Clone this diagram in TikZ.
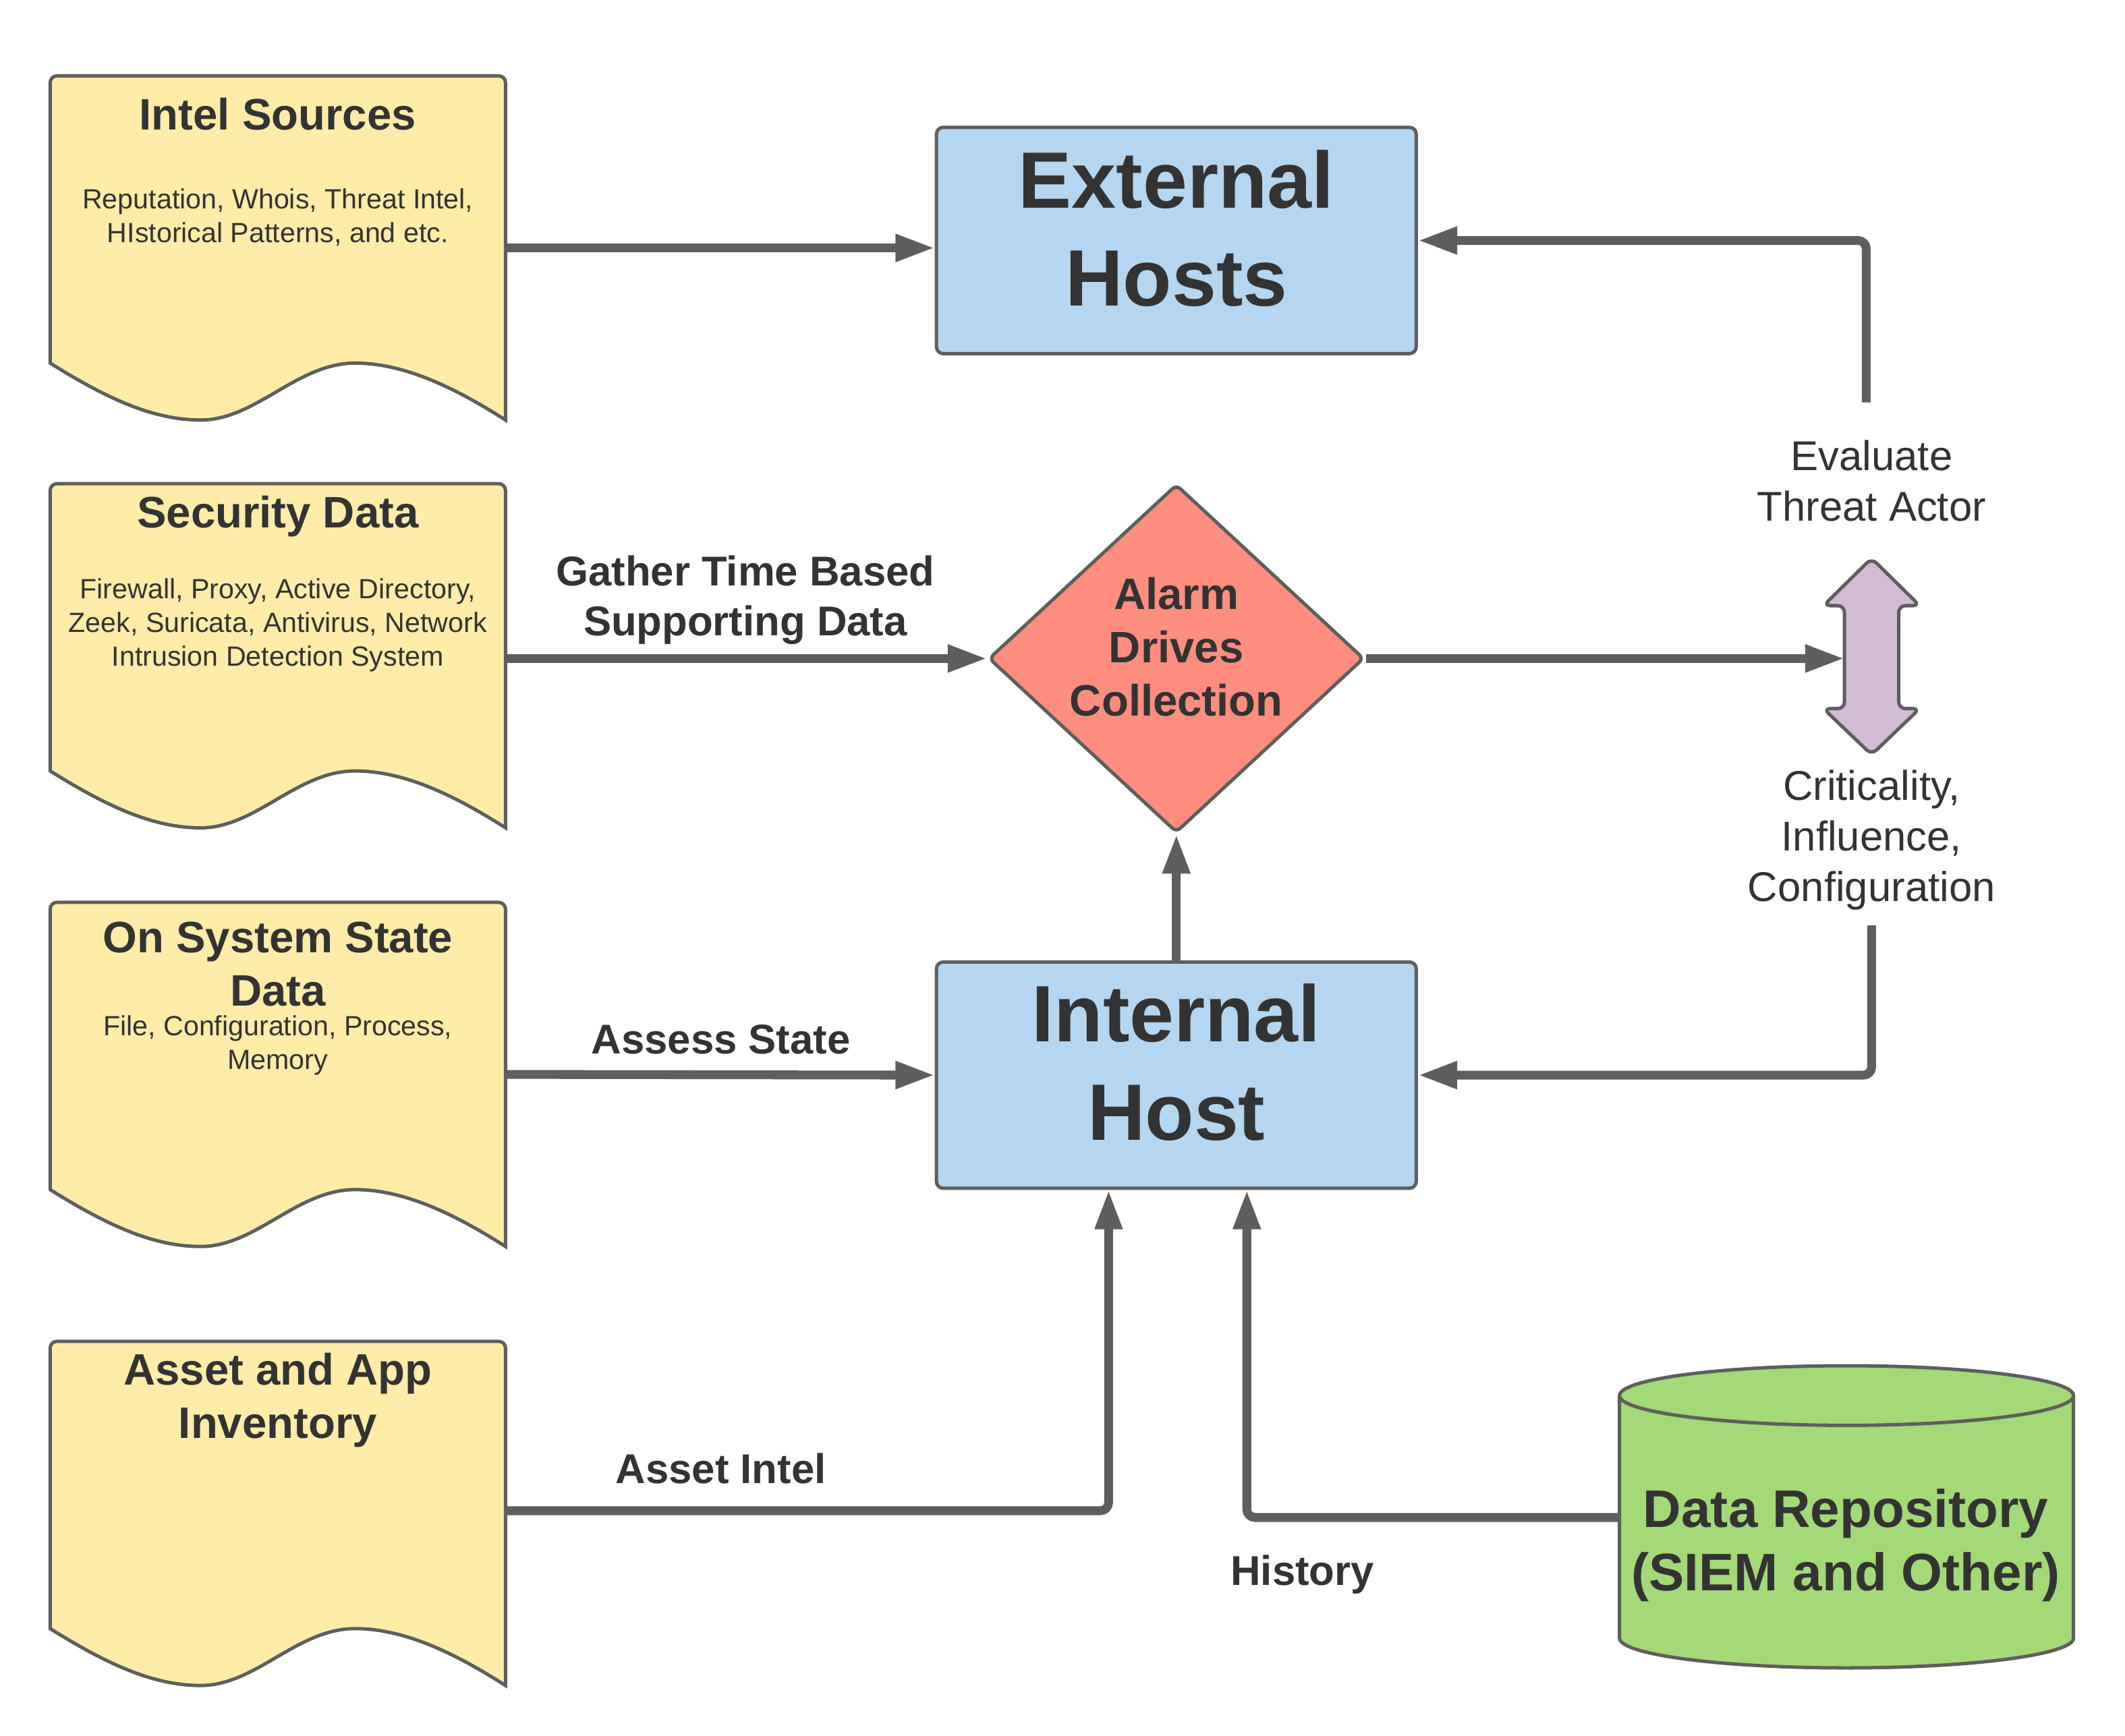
\documentclass[tikz,border=0pt]{standalone}
\usepackage{fontspec}
\setmainfont{Liberation Sans}
\usetikzlibrary{arrows.meta,shapes.geometric}

\definecolor{linegray}{HTML}{5E5E5E}
\definecolor{textgray}{HTML}{333333}
\definecolor{docyellow}{HTML}{FFECA8}
\definecolor{hostblue}{HTML}{B4D6F0}
\definecolor{alarmred}{HTML}{FF8E7F}
\definecolor{repogreen}{HTML}{A3D977}
\definecolor{evallilac}{HTML}{D3BCD3}

\tikzset{
	docshape/.style={draw=linegray, fill=docyellow, line width=2.5pt},
	doctitle/.style={text=textgray, align=center, inner sep=0pt, font=\fontsize{32.5}{39.5}\selectfont\bfseries},
	docsub/.style={text=textgray, align=center, inner sep=0pt, font=\fontsize{20.5}{24.8}\selectfont},
	hostbox/.style={draw=linegray, fill=hostblue, line width=2.5pt, rounded corners=5pt, minimum width=354pt, minimum height=167pt},
	hosttext/.style={text=textgray, align=center, inner sep=0pt, font=\fontsize{59}{72.5}\selectfont\bfseries},
	alarmbox/.style={diamond, draw=linegray, fill=alarmred, line width=2.5pt, rounded corners=4pt, minimum width=277pt, minimum height=257pt, inner sep=0pt},
	alarmtext/.style={text=textgray, align=center, inner sep=0pt, font=\fontsize{32.5}{39.5}\selectfont\bfseries},
	repotext/.style={text=textgray, align=center, inner sep=0pt, font=\fontsize{39}{47}\selectfont\bfseries},
	linklabel/.style={text=textgray, align=center, inner sep=0pt, font=\fontsize{30.7}{37}\selectfont\bfseries},
	sidelabel/.style={text=textgray, align=center, inner sep=0pt, font=\fontsize{30.7}{37.5}\selectfont},
	conn/.style={draw=linegray, line width=6.5pt, rounded corners=6pt, -{Triangle[length=29pt,width=19pt]}}
}

\newcommand\docpage[2]{%
	\draw[docshape] (#1,#2+212) [rounded corners=5pt] -- (#1,#2) -- (#1+336,#2) [sharp corners] -- (#1+336,#2+254)
		.. controls (#1+300,#2+231) and (#1+262,#2+212) .. (#1+225,#2+212)
		.. controls (#1+182,#2+212) and (#1+152,#2+254) .. (#1+111,#2+254)
		.. controls (#1+75,#2+254) and (#1+40,#2+237) .. (#1,#2+212) -- cycle;}

\begin{document}
\begin{tikzpicture}[x=1pt, y=-1pt]
	\useasboundingbox[fill=white] (0,0) rectangle (1568,1281);

	\docpage{37}{56}
	\docpage{37}{357}
	\docpage{37}{666}
	\docpage{37}{990}
	\node[doctitle] (intel) at (205,84) {Intel Sources};
	\node[docsub] (intelsub) at (205,160.5) {Reputation, Whois, Threat Intel,\\HIstorical Patterns, and etc.};
	\node[doctitle] (security) at (205,381) {Security Data};
	\node[docsub] (securitysub) at (205,461.5) {Firewall, Proxy, Active Directory,\\Zeek, Suricata, Antivirus, Network\\Intrusion Detection System};
	\node[doctitle] (system) at (205,711.5) {On System State\\Data};
	\node[docsub] (systemsub) at (205,771.5) {File, Configuration, Process,\\Memory};
	\node[doctitle] (asset) at (205,1033.5) {Asset and App\\Inventory};
	\coordinate (intelR) at (373,183);
	\coordinate (securityR) at (373,486);
	\coordinate (systemR) at (373,793);
	\coordinate (assetR) at (373,1115);

	\node[hostbox] (ext) at (868,177.5) {};
	\node[hosttext] (exttext) at (868,168.5) {External\\Hosts};
	\node[hostbox] (int) at (868,793.5) {};
	\node[hosttext] (inttext) at (868,784) {Internal\\Host};
	\node[alarmbox] (alarm) at (868,486) {};
	\node[alarmtext] (alarmlabel) at (868,477.5) {Alarm\\Drives\\Collection};

	\draw[draw=linegray, fill=evallilac, line width=2.5pt, rounded corners=5pt]
		(1381,412) -- (1416.5,447) -- (1401,447) -- (1401,523) -- (1416.5,523) -- (1381,557)
		-- (1345.5,523) -- (1361,523) -- (1361,447) -- (1345.5,447) -- cycle;
	\coordinate (dblL) at (1361,486);
	\node[sidelabel] (evaluate) at (1381,355) {Evaluate\\Threat Actor};
	\node[sidelabel] (criticality) at (1381,620) {Criticality,\\Influence,\\Configuration};
	\coordinate (evalTop) at (1377,297);
	\coordinate (critBot) at (1381,683);

	\fill[repogreen] (1195,1030) -- (1195,1209) arc[start angle=180, end angle=0, x radius=167.5, y radius=22]
		-- (1530,1030) arc[start angle=0, end angle=-180, x radius=167.5, y radius=22] -- cycle;
	\draw[linegray, line width=2.5pt] (1195,1030) -- (1195,1209) arc[start angle=180, end angle=0, x radius=167.5, y radius=22]
		-- (1530,1030) arc[start angle=0, end angle=-180, x radius=167.5, y radius=22]
		arc[start angle=180, end angle=0, x radius=167.5, y radius=22];
	\node[repotext] (repo) at (1362,1140.5) {Data Repository\\(SIEM and Other)};
	\coordinate (repoL) at (1195,1120);

	\draw[conn] (intelR) -- (intelR -| ext.west);
	\draw[conn] (securityR) -- (alarm.west);
	\draw[conn] (systemR) -- (int.west);
	\draw[conn] (assetR) -| ([xshift=-50pt]int.south);
	\draw[conn] (repoL) -| ([xshift=52pt]int.south);
	\draw[conn] (int.north) -- (alarm.south);
	\draw[conn] (alarm.east) -- (dblL);
	\draw[conn] (evalTop) |- (ext.east);
	\draw[conn] (critBot) |- (int.east);

	\node[linklabel] (gather) at (550,443) {Gather Time Based\\Supporting Data};
	\node[linklabel] (assess) at (532,767) {Assess State};
	\node[linklabel] (assetintel) at (532,1084) {Asset Intel};
	\node[linklabel] (history) at (961,1162) {History};
\end{tikzpicture}
\end{document}
